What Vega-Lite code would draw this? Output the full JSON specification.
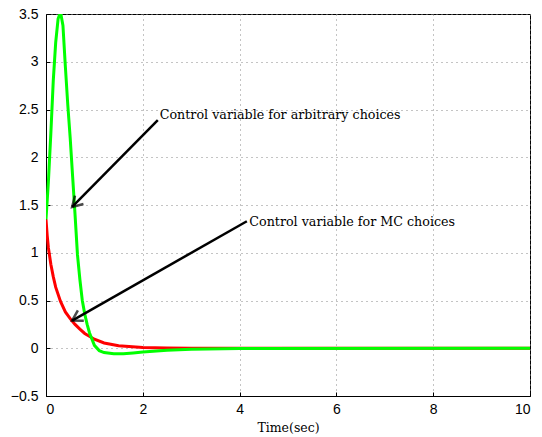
{
  "$schema": "https://vega.github.io/schema/vega-lite/v6.json",
  "width": 484,
  "height": 382,
  "autosize": {"type": "none"},
  "padding": {"left": 46, "top": 14, "right": 12, "bottom": 41},
  "background": "white",
  "config": {
    "view": {"stroke": "black", "strokeWidth": 1},
    "axis": {
      "domainColor": "black",
      "tickColor": "black",
      "tickSize": -4,
      "labelFont": "Liberation Sans",
      "labelFontSize": 14,
      "labelColor": "black",
      "gridColor": "#888888",
      "gridDash": [1, 4],
      "gridWidth": 1,
      "titleFont": "DejaVu Serif",
      "titleFontSize": 12.5,
      "titleFontWeight": "normal",
      "titleColor": "black"
    }
  },
  "datasets": {
    "curves": [
      {"t": 0, "v": 1.35, "s": "MC"},
      {"t": 0.025, "v": 1.18, "s": "MC"},
      {"t": 0.05, "v": 1.05, "s": "MC"},
      {"t": 0.1, "v": 0.88, "s": "MC"},
      {"t": 0.15, "v": 0.75, "s": "MC"},
      {"t": 0.2, "v": 0.64, "s": "MC"},
      {"t": 0.3, "v": 0.49, "s": "MC"},
      {"t": 0.4, "v": 0.38, "s": "MC"},
      {"t": 0.5, "v": 0.31, "s": "MC"},
      {"t": 0.6, "v": 0.25, "s": "MC"},
      {"t": 0.7, "v": 0.2, "s": "MC"},
      {"t": 0.8, "v": 0.155, "s": "MC"},
      {"t": 1.0, "v": 0.095, "s": "MC"},
      {"t": 1.2, "v": 0.055, "s": "MC"},
      {"t": 1.5, "v": 0.027, "s": "MC"},
      {"t": 2.0, "v": 0.009, "s": "MC"},
      {"t": 2.5, "v": 0.003, "s": "MC"},
      {"t": 3.0, "v": 0.001, "s": "MC"},
      {"t": 4.0, "v": 0, "s": "MC"},
      {"t": 10.0, "v": 0, "s": "MC"},
      {"t": 0, "v": 1.35, "s": "ARB"},
      {"t": 0.05, "v": 1.75, "s": "ARB"},
      {"t": 0.1, "v": 2.25, "s": "ARB"},
      {"t": 0.15, "v": 2.8, "s": "ARB"},
      {"t": 0.2, "v": 3.2, "s": "ARB"},
      {"t": 0.25, "v": 3.45, "s": "ARB"},
      {"t": 0.3, "v": 3.52, "s": "ARB"},
      {"t": 0.35, "v": 3.38, "s": "ARB"},
      {"t": 0.4, "v": 2.95, "s": "ARB"},
      {"t": 0.45, "v": 2.55, "s": "ARB"},
      {"t": 0.5, "v": 2.2, "s": "ARB"},
      {"t": 0.55, "v": 1.8, "s": "ARB"},
      {"t": 0.6, "v": 1.4, "s": "ARB"},
      {"t": 0.65, "v": 0.98, "s": "ARB"},
      {"t": 0.7, "v": 0.72, "s": "ARB"},
      {"t": 0.75, "v": 0.5, "s": "ARB"},
      {"t": 0.8, "v": 0.36, "s": "ARB"},
      {"t": 0.85, "v": 0.25, "s": "ARB"},
      {"t": 0.9, "v": 0.16, "s": "ARB"},
      {"t": 1.0, "v": 0.03, "s": "ARB"},
      {"t": 1.1, "v": -0.025, "s": "ARB"},
      {"t": 1.2, "v": -0.045, "s": "ARB"},
      {"t": 1.4, "v": -0.058, "s": "ARB"},
      {"t": 1.6, "v": -0.058, "s": "ARB"},
      {"t": 1.8, "v": -0.05, "s": "ARB"},
      {"t": 2.0, "v": -0.04, "s": "ARB"},
      {"t": 2.5, "v": -0.022, "s": "ARB"},
      {"t": 3.0, "v": -0.01, "s": "ARB"},
      {"t": 4.0, "v": -0.002, "s": "ARB"},
      {"t": 10.0, "v": 0, "s": "ARB"}
    ],
    "arrows": [
      {"name": "ARB", "t1": 2.31, "y1": 2.39, "t2": 0.54, "y2": 1.48},
      {"name": "MC", "t1": 4.15, "y1": 1.33, "t2": 0.54, "y2": 0.29}
    ],
    "labels": [
      {"label": "Control variable for arbitrary choices", "t": 2.35, "y": 2.44},
      {"label": "Control variable for MC choices", "t": 4.2, "y": 1.32}
    ]
  },
  "layer": [
    {
      "data": {"name": "curves"},
      "transform": [{"filter": "datum.s === 'MC'"}],
      "mark": {"type": "line", "color": "#ff0000", "strokeWidth": 3, "clip": true},
      "encoding": {
        "x": {
          "field": "t", "type": "quantitative",
          "scale": {"domain": [0, 10], "nice": false},
          "axis": {"values": [0, 2, 4, 6, 8, 10], "title": "Time(sec)", "grid": true, "labelPadding": 10, "titlePadding": 5}
        },
        "y": {
          "field": "v", "type": "quantitative",
          "scale": {"domain": [-0.5, 3.5], "nice": false, "zero": false},
          "axis": {"values": [-0.5, 0, 0.5, 1, 1.5, 2, 2.5, 3, 3.5], "title": null, "grid": true, "labelPadding": 12, "format": ".1~f"}
        }
      }
    },
    {
      "data": {"name": "curves"},
      "transform": [{"filter": "datum.s === 'ARB'"}],
      "mark": {"type": "line", "color": "#00ff00", "strokeWidth": 3, "clip": true},
      "encoding": {
        "x": {"field": "t", "type": "quantitative"},
        "y": {"field": "v", "type": "quantitative"}
      }
    },
    {
      "data": {"name": "arrows"},
      "mark": {"type": "rule", "color": "black", "strokeWidth": 2.5},
      "encoding": {
        "x": {"field": "t1", "type": "quantitative"},
        "y": {"field": "y1", "type": "quantitative"},
        "x2": {"field": "t2"},
        "y2": {"field": "y2"}
      }
    },
    {
      "data": {"name": "arrows"},
      "transform": [{"filter": "datum.name === 'ARB'"}],
      "mark": {"type": "point", "shape": "M -1 -0.6 L 0 0 L -1 0.6", "filled": false, "stroke": "black", "strokeWidth": 2.5, "size": 400, "angle": 135},
      "encoding": {
        "x": {"field": "t2", "type": "quantitative"},
        "y": {"field": "y2", "type": "quantitative"}
      }
    },
    {
      "data": {"name": "arrows"},
      "transform": [{"filter": "datum.name === 'MC'"}],
      "mark": {"type": "point", "shape": "M -1 -0.6 L 0 0 L -1 0.6", "filled": false, "stroke": "black", "strokeWidth": 2.5, "size": 400, "angle": 150.5},
      "encoding": {
        "x": {"field": "t2", "type": "quantitative"},
        "y": {"field": "y2", "type": "quantitative"}
      }
    },
    {
      "data": {"name": "labels"},
      "mark": {"type": "text", "align": "left", "baseline": "middle", "font": "DejaVu Serif", "fontSize": 12.7, "color": "black"},
      "encoding": {
        "x": {"field": "t", "type": "quantitative"},
        "y": {"field": "y", "type": "quantitative"},
        "text": {"field": "label"}
      }
    }
  ]
}
